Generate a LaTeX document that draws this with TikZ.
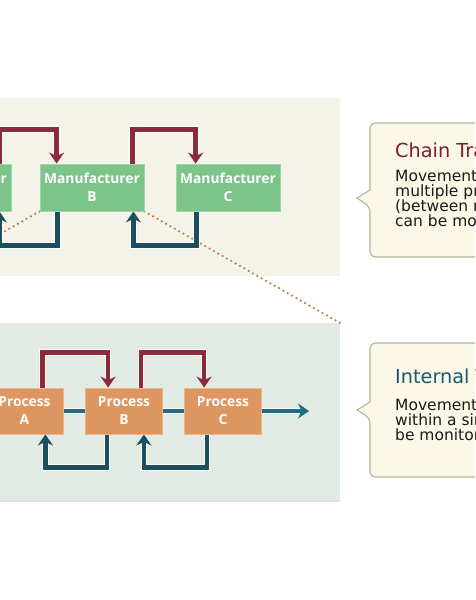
\documentclass[tikz,border=0pt]{standalone}
\usepackage{fontspec}
\setmainfont{Open Sans}
\newfontfamily\bodyfont{DejaVu Sans}
\usetikzlibrary{arrows.meta}
\definecolor{toppanel}{HTML}{F3F3EA}
\definecolor{botpanel}{HTML}{E1EAE3}
\definecolor{mgreen}{HTML}{7DC48B}
\definecolor{mgreenb}{HTML}{A3D5A9}
\definecolor{porange}{HTML}{DE9661}
\definecolor{porangeb}{HTML}{EDB58C}
\definecolor{aRed}{HTML}{8C2A3C}
\definecolor{aTealD}{HTML}{1C4F5E}
\definecolor{aTeal}{HTML}{1F6B82}
\definecolor{dotor}{HTML}{C97C45}
\definecolor{callfill}{HTML}{FBF8E7}
\definecolor{callline}{HTML}{B3B39C}
\definecolor{ttlred}{HTML}{7E1D2C}
\definecolor{ttlteal}{HTML}{1B5A6D}
\definecolor{bodytxt}{HTML}{1A1A1A}
\tikzset{
  mbox/.style={draw=mgreenb, fill=mgreen, line width=0.8pt, minimum width=104pt,
    minimum height=47pt, inner sep=0pt, align=center, text=white,
    font=\bfseries\fontsize{13.8}{18}\selectfont},
  pbox/.style={mbox, draw=porangeb, fill=porange, minimum width=77pt, minimum height=46pt},
  conn/.style={line width=4.4pt, preaction={draw=white, line width=6.6pt}},
  tipA/.style={-{Stealth[length=11pt,width=15pt,inset=3.5pt]}},
  redc/.style={conn, tipA, draw=aRed},
  tealc/.style={conn, tipA, draw=aTealD},
  flowc/.style={conn, draw=aTeal},
  zoomline/.style={draw=dotor, line width=2.5pt, line cap=round, dash pattern=on 0pt off 5pt},
  callout/.style={draw=callline, fill=callfill, line width=1.1pt},
  ttl/.style={anchor=base west, inner sep=0pt, font=\bodyfont\fontsize{19.3}{24}\selectfont},
  bodyl/.style={anchor=base west, inner sep=0pt, text=bodytxt, font=\bodyfont\fontsize{15.5}{17}\selectfont}
}
\begin{document}
\begin{tikzpicture}[x=1pt,y=-1pt]
\useasboundingbox (0,0) rectangle (475,600);
\clip (0,0) rectangle (475,600);
\fill[white] (0,0) rectangle (475,600);
% panels
\fill[toppanel] (0,98) rectangle (340,276);
\fill[black!12] (0,500) rectangle (340,501.5);
\fill[botpanel] (0,323) rectangle (340,500);
% nodes
\node[mbox] (mA) at (-41,187.5) {Manufacturer\\A};
\node[mbox] (mB) at (92,187.5) {Manufacturer\\B};
\node[mbox] (mC) at (228,187.5) {Manufacturer\\C};
\node[pbox] (pA) at (24.5,411) {Process\\A};
\node[pbox] (pB) at (124,411) {Process\\B};
\node[pbox] (pC) at (223,411) {Process\\C};
\coordinate (zl) at (-156,323);
\coordinate (zr) at (340,323);
\coordinate (pend) at (309,411);
% zoom lines
\draw[zoomline] (mB.south west) -- (zl);
\draw[zoomline] (mB.south east) -- (zr);
% top connectors
\draw[redc] ([xshift=-12pt]mA.north east) -- ++(0,-34) -| ([xshift=17pt]mB.north west);
\draw[redc] ([xshift=-12pt]mB.north east) -- ++(0,-34) -| ([xshift=20pt]mC.north west);
\draw[tealc] ([xshift=18pt]mB.south west) -- ++(0,34) -| ([xshift=-12pt]mA.south east);
\draw[tealc] ([xshift=21pt]mC.south west) -- ++(0,34) -| ([xshift=-11pt]mB.south east);
% bottom connectors
\draw[flowc] (pA.east) -- (pB.west);
\draw[flowc] (pB.east) -- (pC.west);
\draw[flowc, tipA] (pC.east) -- (pend);
\draw[redc] ([xshift=-21pt]pA.north east) -- ++(0,-35) -| ([xshift=23pt]pB.north west);
\draw[redc] ([xshift=-22pt]pB.north east) -- ++(0,-35) -| ([xshift=20pt]pC.north west);
\draw[tealc] ([xshift=22pt]pB.south west) -- ++(0,33) -| ([xshift=-18pt]pA.south east);
\draw[tealc] ([xshift=23pt]pC.south west) -- ++(0,33) -| ([xshift=-19pt]pB.south east);
% redraw boxes on top
\node[mbox] at (mA) {Manufacturer\\A};
\node[mbox] at (mB) {Manufacturer\\B};
\node[mbox] at (mC) {Manufacturer\\C};
\node[pbox] at (pA) {Process\\A};
\node[pbox] at (pB) {Process\\B};
\node[pbox] at (pC) {Process\\C};
% callouts
\draw[callout] (500,257) [rounded corners=5pt] -- (370,257) -- (370,207) [sharp corners] -- (357,198) -- (370,190) [rounded corners=5pt] -- (370,123) -- (500,123);
\draw[callout] (500,477) [rounded corners=5pt] -- (370,477) -- (370,418) [sharp corners] -- (357,410) -- (370,402) [rounded corners=5pt] -- (370,343) -- (500,343);
\node[ttl, text=ttlred] (t1) at (395,157) {Chain Traceability};
\node[bodyl] (b11) at (395,181) {Movement of products across};
\node[bodyl] (b12) at (395,196) {multiple processors};
\node[bodyl] (b13) at (395,211) {(between manufacturers)};
\node[bodyl] (b14) at (395,226) {can be monitored};
\node[ttl, text=ttlteal] (t2) at (395,383) {Internal Traceability};
\node[bodyl] (b21) at (395,410) {Movement of products};
\node[bodyl] (b22) at (395,425) {within a single facility can};
\node[bodyl] (b23) at (395,440) {be monitored};
\end{tikzpicture}
\end{document}
